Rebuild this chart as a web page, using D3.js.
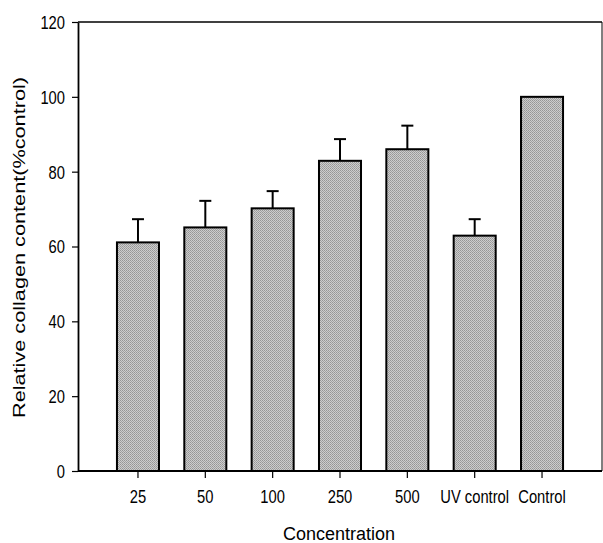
<!DOCTYPE html>
<html><head><meta charset="utf-8">
<script src="https://cdn.jsdelivr.net/npm/d3@7"></script>
<style>body{margin:0;background:#fff;} svg{display:block;}</style>
</head><body>
<svg id="c" width="603" height="543"></svg>
<script>
const categories = ["25","50","100","250","500","UV control","Control"];
const values = [61.1, 65.1, 70.2, 82.9, 86.0, 62.9, 100];
const errors = [6.2, 7.1, 4.6, 5.8, 6.3, 4.4, 0];
const yTicks = [0,20,40,60,80,100,120];

const svg = d3.select("#c");
const L = 78, R = 602, T = 22, B = 471;
const font = "'Liberation Sans',Arial,sans-serif";
const SX = 0.82;

const defs = svg.append("defs");
const pat = defs.append("pattern").attr("id","dots").attr("width",2).attr("height",2).attr("patternUnits","userSpaceOnUse");
pat.append("rect").attr("width",2).attr("height",2).attr("fill","#cdcdcd");
pat.append("rect").attr("width",1).attr("height",1).attr("fill","#969696");
pat.append("rect").attr("x",1).attr("y",1).attr("width",1).attr("height",1).attr("fill","#a2a2a2");

const x = d3.scaleBand().domain(categories).range([104.3, 575.7]).paddingInner(0.376).paddingOuter(0.188);
const y = d3.scaleLinear().domain([0,120]).range([B, T]);

// frame
svg.append("line").attr("x1",L).attr("x2",R).attr("y1",T).attr("y2",T).attr("stroke","#000").attr("stroke-width",1.5);
svg.append("line").attr("x1",R).attr("x2",R).attr("y1",T).attr("y2",B).attr("stroke","#000").attr("stroke-width",1);

// bars
const g = svg.append("g");
categories.forEach((c,i)=>{
  const x0 = x(c), w = x.bandwidth(), cx = x0 + w/2;
  if (errors[i] > 0) {
    g.append("line").attr("x1",cx).attr("x2",cx).attr("y1",y(values[i])).attr("y2",y(values[i]+errors[i])).attr("stroke","#000").attr("stroke-width",2);
    g.append("line").attr("x1",cx-6).attr("x2",cx+6).attr("y1",y(values[i]+errors[i])).attr("y2",y(values[i]+errors[i])).attr("stroke","#000").attr("stroke-width",2);
  }
  g.append("rect").attr("x",x0).attr("y",y(values[i])).attr("width",w).attr("height",B-y(values[i]))
   .attr("fill","url(#dots)").attr("stroke","#000").attr("stroke-width",2);
});

// y axis
const ya = svg.append("g").attr("transform",`translate(${L},0)`)
  .call(d3.axisLeft(y).tickValues(yTicks).tickSize(6).tickSizeOuter(0).tickFormat(d3.format("d")));
ya.select(".domain").attr("stroke-width",1.8);
ya.selectAll(".tick line").attr("stroke-width",1.2);
ya.selectAll(".tick text").attr("font-family",font).attr("font-size",18)
  .attr("x",-13/SX).attr("dy","0.36em").attr("transform",`scale(${SX},1)`).attr("fill","#000");

// x axis
const xa = svg.append("g").attr("transform",`translate(0,${B})`)
  .call(d3.axisBottom(x).tickSize(7).tickSizeOuter(0));
xa.select(".domain").attr("d",`M${L},0H${R}`).attr("stroke-width",1.8);
xa.selectAll(".tick line").attr("stroke-width",1.2);
xa.selectAll(".tick text").attr("font-family",font).attr("font-size",18)
  .attr("y",32).attr("dy",0).attr("transform",`scale(${SX},1)`).attr("fill","#000");

// labels
svg.append("text").attr("transform","translate(25,247.5) rotate(-90)").attr("text-anchor","middle")
  .attr("font-family",font).attr("font-size",17)
  .attr("textLength",341).attr("lengthAdjust","spacingAndGlyphs")
  .text("Relative collagen content(%control)");
svg.append("text").attr("x",339).attr("y",540).attr("text-anchor","middle")
  .attr("font-family",font).attr("font-size",18)
  .attr("textLength",112).attr("lengthAdjust","spacingAndGlyphs")
  .text("Concentration");
</script>
</body></html>
